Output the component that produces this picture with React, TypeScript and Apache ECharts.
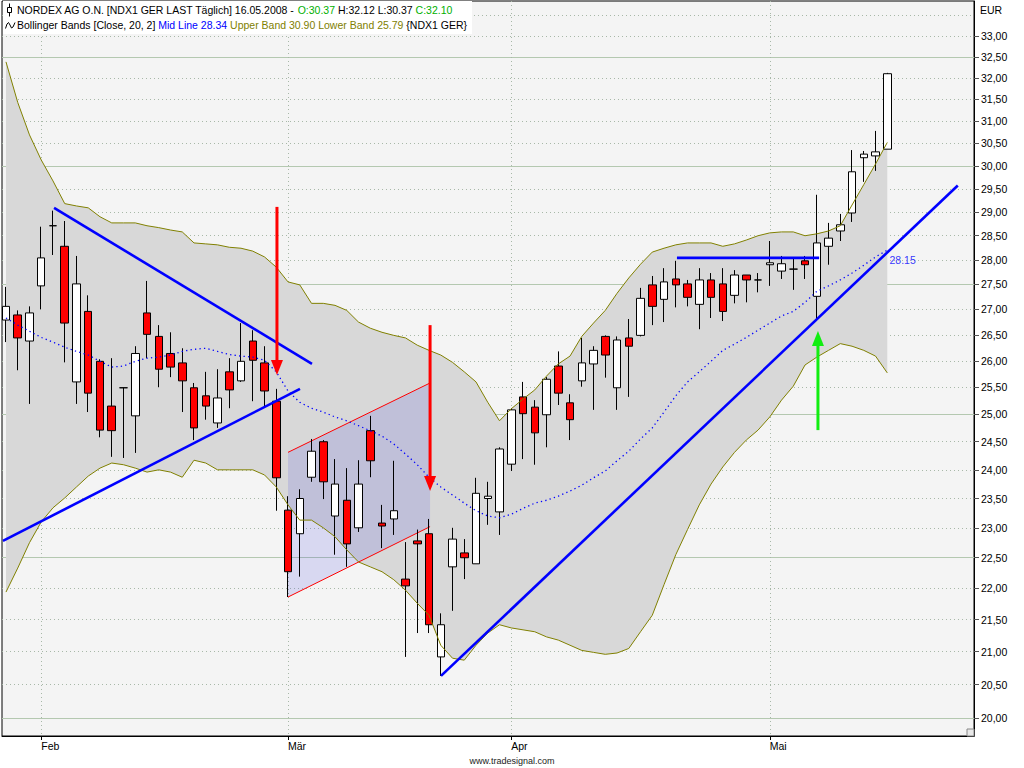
import React, { useEffect, useRef } from 'react';
import * as echarts from 'echarts';

// ---------- data ----------
const dates = [
  '29.01.', '30.01.', '31.01.',
  '01.02.', '04.02.', '05.02.', '06.02.', '07.02.', '08.02.', '11.02.', '12.02.', '13.02.', '14.02.', '15.02.',
  '18.02.', '19.02.', '20.02.', '21.02.', '22.02.', '25.02.', '26.02.', '27.02.', '28.02.', '29.02.',
  '03.03.', '04.03.', '05.03.', '06.03.', '07.03.', '10.03.', '11.03.', '12.03.', '13.03.', '14.03.',
  '17.03.', '18.03.', '19.03.', '20.03.', '25.03.', '26.03.', '27.03.', '28.03.', '31.03.',
  '01.04.', '02.04.', '03.04.', '04.04.', '07.04.', '08.04.', '09.04.', '10.04.', '11.04.', '14.04.',
  '15.04.', '16.04.', '17.04.', '18.04.', '21.04.', '22.04.', '23.04.', '24.04.', '25.04.', '28.04.',
  '29.04.', '30.04.',
  '02.05.', '05.05.', '06.05.', '07.05.', '08.05.', '09.05.', '12.05.', '13.05.', '14.05.', '15.05.', '16.05.'
];

const opens = [
  26.79, 26.89, 26.38, 27.47, 28.71, 28.28, 25.60, 26.96, 25.99, 25.15,
  25.49, 24.97, 26.93, 26.47, 26.14, 25.96, 25.49, 25.34, 24.84, 25.79,
  25.62, 26.38, 25.96, 25.24, 23.30, 22.90, 23.87, 24.50, 23.20, 23.47,
  23.00, 24.70, 23.08, 23.15, 22.15, 22.78, 22.90, 20.92, 22.35, 22.58,
  22.40, 23.50, 23.27, 24.10, 25.32, 25.13, 24.99, 25.90, 25.21, 25.62,
  25.94, 26.47, 25.49, 26.44, 26.49, 27.49, 27.20, 27.61, 27.51, 27.10,
  27.59, 27.51, 27.28, 27.69, 27.59, 27.90, 27.77, 27.81, 27.98, 27.26,
  28.28, 28.60, 28.98, 30.18, 30.22, 30.37
];
const highs = [
  27.45, 26.98, 27.06, 28.69, 29.03, 28.81, 28.08, 27.28, 26.03, 26.05,
  25.49, 26.28, 27.57, 26.69, 26.55, 26.24, 25.58, 25.79, 25.84, 26.05,
  26.73, 26.59, 26.28, 25.47, 23.54, 23.66, 24.55, 24.53, 24.19, 24.03,
  24.17, 24.97, 23.39, 24.16, 22.76, 22.97, 23.15, 21.60, 23.00, 22.81,
  23.86, 23.79, 24.40, 25.11, 25.60, 25.26, 25.69, 26.18, 25.37, 26.44,
  26.28, 26.49, 26.47, 26.81, 27.43, 27.67, 27.83, 27.98, 27.59, 27.83,
  27.73, 27.83, 27.79, 27.69, 27.73, 28.39, 28.08, 28.02, 28.08, 29.37,
  28.77, 28.96, 30.35, 30.33, 30.78, 32.12
];
const lows = [
  26.36, 25.82, 25.19, 27.00, 28.10, 25.97, 25.19, 25.04, 24.58, 24.23,
  24.21, 24.30, 26.05, 25.50, 25.69, 25.04, 24.53, 24.90, 24.75, 25.11,
  25.60, 25.24, 25.13, 23.29, 21.86, 22.19, 23.79, 23.49, 22.55, 22.35,
  22.93, 23.87, 22.66, 22.88, 20.92, 21.29, 21.29, 20.63, 21.64, 22.15,
  22.40, 23.05, 22.88, 23.98, 24.19, 24.09, 24.40, 25.17, 24.53, 25.51,
  25.08, 25.68, 25.08, 25.32, 26.47, 26.69, 26.75, 27.04, 27.06, 26.61,
  26.83, 26.77, 27.12, 27.14, 27.34, 27.47, 27.61, 27.39, 27.61, 26.81,
  27.90, 28.39, 28.79, 29.65, 29.89, 30.37
];
const closes = [
  27.06, 26.44, 26.93, 28.04, 28.71, 26.73, 27.51, 25.39, 24.71, 24.70,
  25.49, 26.14, 26.51, 25.84, 25.88, 25.62, 24.75, 25.15, 25.30, 25.45,
  25.99, 26.01, 25.43, 23.86, 22.27, 23.50, 24.33, 23.79, 23.75, 22.73,
  23.75, 24.16, 23.03, 23.29, 22.04, 22.73, 21.42, 21.42, 22.81, 22.50,
  23.59, 23.54, 24.37, 25.08, 25.01, 24.66, 25.65, 25.39, 24.90, 25.96,
  26.20, 26.11, 26.40, 26.28, 27.22, 27.06, 27.55, 27.49, 27.24, 27.59,
  27.24, 26.96, 27.69, 27.59, 27.59, 27.94, 27.92, 27.81, 27.90, 28.35,
  28.45, 28.73, 29.87, 30.26, 30.31, 32.10
];

const upperBand = [
  32.38, 31.43, 30.69, 30.13, 29.67, 29.18, 29.13, 29.09, 28.90, 28.77,
  28.77, 28.77, 28.71, 28.67, 28.62, 28.58, 28.35, 28.33, 28.31, 28.26,
  28.24, 28.18, 28.06, 27.85, 27.55, 27.49, 27.12, 27.12, 27.08, 26.98,
  26.75, 26.63, 26.55, 26.49, 26.44, 26.30, 26.20, 26.11, 25.97, 25.79,
  25.60, 25.22, 24.88, 25.10, 25.28, 25.45, 25.71, 25.94, 26.09, 26.47,
  26.73, 26.98, 27.32, 27.63, 27.91, 28.16, 28.24, 28.31, 28.35, 28.35,
  28.35, 28.28, 28.33, 28.41, 28.50, 28.56, 28.58, 28.58, 28.50, 28.54,
  28.60, 28.71, 29.15, 29.59, 30.04, 30.52
];
const midBand = [
  26.83, 26.69, 26.57, 26.45, 26.36, 26.26, 26.18, 26.11, 25.99, 25.88,
  25.90, 25.99, 26.05, 26.07, 26.11, 26.18, 26.22, 26.24, 26.18, 26.12,
  26.09, 26.07, 26.01, 25.79, 25.43, 25.22, 25.11, 25.04, 24.95, 24.88,
  24.79, 24.70, 24.60, 24.46, 24.28, 24.09, 23.87, 23.70, 23.56, 23.42,
  23.29, 23.20, 23.17, 23.23, 23.33, 23.42, 23.47, 23.54, 23.63, 23.73,
  23.86, 23.98, 24.16, 24.33, 24.55, 24.75, 25.04, 25.34, 25.60, 25.79,
  25.99, 26.20, 26.32, 26.45, 26.59, 26.73, 26.87, 26.96, 27.14, 27.36,
  27.47, 27.59, 27.73, 27.89, 28.06, 28.20
];
const lowerBand = [
  21.94, 22.33, 22.75, 23.10, 23.34, 23.51, 23.70, 23.89, 24.03, 24.12,
  24.09, 24.03, 23.96, 24.00, 23.96, 23.87, 24.17, 24.12, 24.00, 24.00,
  24.00, 24.00, 23.91, 23.70, 23.39, 23.13, 23.13, 23.00, 22.85, 22.63,
  22.43, 22.35, 22.27, 22.14, 21.97, 21.76, 21.57, 21.10, 20.90, 20.87,
  21.10, 21.29, 21.42, 21.37, 21.34, 21.31, 21.23, 21.18, 21.10, 21.02,
  20.99, 20.96, 20.98, 21.05, 21.31, 21.57, 22.06, 22.55, 22.97, 23.39,
  23.75, 24.05, 24.31, 24.53, 24.71, 24.95, 25.26, 25.52, 25.92, 26.07,
  26.20, 26.33, 26.28, 26.20, 26.09, 25.77
];

const priceTicks = [20, 20.5, 21, 21.5, 22, 22.5, 23, 23.5, 24, 24.5, 25, 25.5, 26, 26.5, 27, 27.5, 28, 28.5, 29, 29.5, 30, 30.5, 31, 31.5, 32, 32.5, 33];
const dottedGrid = [20, 20.5, 21, 21.5, 22, 22.5, 23, 23.5, 24, 24.5, 25, 25.5, 26, 26.5, 27, 27.5, 28, 28.5, 29, 29.5, 30, 30.5, 31, 31.5, 32, 32.5, 33, 33.5];
const solidGrid = [20, 22.5, 25, 27.5, 30, 32.5];
const monthTickIdx = [3, 24, 43, 65];
const monthLabels = ['Feb', 'Mär', 'Apr', 'Mai'];

// drawn annotations, [bar index, price]
const trendLines = [
  [[4.09, 29.09], [26.04, 25.94]],
  [[-0.26, 22.78], [25.02, 25.47]],
  [[37.02, 20.63], [81.0, 29.57]],
  [[57.1, 28.04], [69.2, 28.04]]
];
const channel = [[24.0, 24.31], [36.09, 25.58], [36.09, 23.02], [24.0, 21.86]];
const arrows = [
  { x: 23.06, from: 29.11, to: 25.87, color: '#ff0000', rot: 180 },
  { x: 36.09, from: 26.69, to: 23.76, color: '#ff0000', rot: 180 },
  { x: 69.1, from: 24.71, to: 26.43, color: '#11ee11', rot: 0 }
];
const trendLabel = { x: 75.06, price: 28.0, text: '28.15' };

const FONT = "'Liberation Sans', Arial, sans-serif";
const L = Math.log;
const Y_MIN = L(19.74);
const Y_MAX = L(33.86);

export default function App() {
  const ref = useRef<HTMLDivElement>(null);
  useEffect(() => {
    document.body.style.margin = '0';
    if (!ref.current) return;
    const chart = echarts.init(ref.current, null, { renderer: 'svg' });

    const candleData = opens.map((o, i) => [i, L(o), L(closes[i]), L(lows[i]), L(highs[i])]);
    const yAxisBase = {
      type: 'value',
      min: Y_MIN,
      max: Y_MAX,
      position: 'right',
    };

    const series: any[] = [];
    // Bollinger band fill
    series.push({
      type: 'custom',
      silent: true,
      data: [[0, L(upperBand[0])]],
      renderItem: (params: any, api: any) => {
        const top = upperBand.map((p, i) => api.coord([i, L(p)]));
        const bot = lowerBand.map((p, i) => api.coord([i, L(p)])).reverse();
        return {
          type: 'polygon',
          shape: { points: top.concat(bot) },
          style: { fill: '#d8d8d8' }
        };
      }
    });
    series.push({
      type: 'line', data: upperBand.map((p, i) => [i, L(p)]), symbol: 'none',
      lineStyle: { color: '#808000', width: 1 }, silent: true
    });
    series.push({
      type: 'line', data: lowerBand.map((p, i) => [i, L(p)]), symbol: 'none',
      lineStyle: { color: '#808000', width: 1 }, silent: true
    });
    series.push({
      type: 'line', data: midBand.map((p, i) => [i, L(p)]), symbol: 'none',
      lineStyle: { color: '#0000ff', width: 1.3, type: [1.3, 3.2] }, silent: true
    });
    series.push({
      type: 'candlestick',
      data: candleData,
      barWidth: 8,
      itemStyle: {
        color: '#ffffff', color0: '#ff0000',
        borderColor: '#000000', borderColor0: '#000000', borderColorDoji: '#000000',
        borderWidth: 1
      }
    });
    // channel overlay
    series.push({
      type: 'custom',
      silent: true,
      data: [[24, L(23)]],
      renderItem: (params: any, api: any) => {
        const pts = channel.map(([x, p]) => api.coord([x, L(p)]));
        return {
          type: 'group',
          children: [
            { type: 'polygon', shape: { points: pts }, style: { fill: 'rgba(60,60,230,0.15)' } },
            { type: 'line', shape: { x1: pts[0][0], y1: pts[0][1], x2: pts[1][0], y2: pts[1][1] }, style: { stroke: '#ff0000', lineWidth: 1 } },
            { type: 'line', shape: { x1: pts[3][0], y1: pts[3][1], x2: pts[2][0], y2: pts[2][1] }, style: { stroke: '#ff0000', lineWidth: 1 } }
          ]
        };
      }
    });
    trendLines.forEach((seg) => {
      series.push({
        type: 'line', data: seg.map(([x, p]) => [x, L(p)]), symbol: 'none',
        lineStyle: { color: '#0000ff', width: 2.6 }, silent: true
      });
    });
    arrows.forEach((a) => {
      series.push({
        type: 'line',
        silent: true,
        symbol: 'triangle',
        showSymbol: true,
        itemStyle: { color: a.color },
        lineStyle: { color: a.color, width: 3 },
        data: [
          { value: [a.x, L(a.from)], symbol: 'none' },
          { value: [a.x, L(a.to)], symbol: 'triangle', symbolSize: [12, 15], symbolRotate: a.rot }
        ]
      });
    });
    series.push({
      type: 'scatter',
      silent: true,
      symbolSize: 1,
      itemStyle: { color: 'rgba(0,0,0,0)' },
      data: [[trendLabel.x, L(trendLabel.price)]],
      label: {
        show: true, position: 'right', distance: 1, formatter: trendLabel.text,
        color: '#0000ff', fontSize: 10.5, fontFamily: FONT
      }
    });

    const option: any = {
      animation: false,
      backgroundColor: '#ffffff',
      grid: {
        left: 2, right: 50, top: 1, bottom: 32, show: true,
        backgroundColor: '#f4f4f4', borderColor: '#000000', borderWidth: 1,
        containLabel: false, outerBoundsMode: 'none'
      },
      xAxis: {
        type: 'value', min: -0.34, max: 82.38,
        axisLine: { show: true, onZero: false, lineStyle: { color: '#000000' } },
        axisTick: { show: true, customValues: monthTickIdx, length: 4, lineStyle: { color: '#000000' } },
        axisLabel: {
          customValues: monthTickIdx,
          formatter: (v: number) => {
            const k = monthTickIdx.indexOf(v);
            return k >= 0 ? monthLabels[k] : '';
          },
          align: 'left', margin: 4, fontSize: 10.5, fontFamily: FONT, color: '#000000'
        },
        splitLine: { show: true, lineStyle: { color: '#a8b8a8', type: [1, 3], width: 1 } }
      },
      yAxis: [
        {
          ...yAxisBase,
          axisLine: { show: true, onZero: false, lineStyle: { color: '#000000' } },
          axisTick: { show: true, customValues: priceTicks.map(L), length: 5, lineStyle: { color: '#555555' } },
          axisLabel: {
            customValues: priceTicks.map(L),
            formatter: (v: number) => Math.exp(v).toFixed(2).replace('.', ','),
            margin: 7, fontSize: 10.5, fontFamily: FONT, color: '#000000'
          },
          splitLine: { show: false }
        },
        {
          ...yAxisBase,
          axisLine: { show: false },
          axisTick: { show: false, customValues: dottedGrid.map(L) },
          axisLabel: { show: false },
          splitLine: { show: true, lineStyle: { color: '#a8b8a8', type: [1, 3], width: 1 } }
        },
        {
          ...yAxisBase,
          axisLine: { show: false },
          axisTick: { show: false, customValues: solidGrid.map(L) },
          axisLabel: { show: false },
          splitLine: { show: true, lineStyle: { color: '#b4c8b0', width: 1 } }
        }
      ],
      series,
      graphic: [
        { type: 'rect', z: 100, shape: { x: 3, y: 1, width: 469, height: 33 }, style: { fill: '#ffffff' } },
        { type: 'line', z: 101, shape: { x1: 9.5, y1: 3.5, x2: 9.5, y2: 16.5 }, style: { stroke: '#000', lineWidth: 1 } },
        { type: 'rect', z: 102, shape: { x: 7.5, y: 7.5, width: 4, height: 5 }, style: { fill: '#ffffff', stroke: '#000', lineWidth: 1 } },
        {
          type: 'polyline', z: 101,
          shape: { points: [[5.5, 28.5], [7, 24], [8.5, 22.5], [10, 25], [11.5, 28], [13, 27], [15, 22.5]] },
          style: { stroke: '#000', lineWidth: 1, fill: null }
        },
        {
          type: 'text', z: 101, x: 17, y: 10,
          style: {
            text: '{k|NORDEX AG O.N. [NDX1 GER LAST Täglich] 16.05.2008 - }{g|O:30.37}{k| H:32.12 L:30.37 }{g|C:32.10}',
            font: `10.5px ${FONT}`, fill: '#000', verticalAlign: 'middle',
            rich: {
              k: { fill: '#000000', font: `10.5px ${FONT}` },
              g: { fill: '#00b000', font: `10.5px ${FONT}` }
            }
          }
        },
        {
          type: 'text', z: 101, x: 17, y: 25,
          style: {
            text: '{k|Bollinger Bands [Close, 20, 2] }{b|Mid Line 28.34}{o| Upper Band 30.90 Lower Band 25.79}{k| }{NDX1 GER}',
            font: `10.5px ${FONT}`, fill: '#000', verticalAlign: 'middle',
            rich: {
              k: { fill: '#000000', font: `10.5px ${FONT}` },
              b: { fill: '#0000ff', font: `10.5px ${FONT}` },
              o: { fill: '#808000', font: `10.5px ${FONT}` }
            }
          }
        },
        {
          type: 'text', z: 101, x: 980, y: 10,
          style: { text: 'EUR', font: `10.5px ${FONT}`, fill: '#000', verticalAlign: 'middle' }
        },
        {
          type: 'rect', z: 101, shape: { x: 967, y: 729, width: 7, height: 7 },
          style: { fill: '#e8e8e8', stroke: '#888888', lineWidth: 1 }
        },
        {
          type: 'text', z: 101, x: 512, y: 761,
          style: { text: 'www.tradesignal.com', font: `9px ${FONT}`, fill: '#222', align: 'center', verticalAlign: 'middle' }
        }
      ]
    };
    chart.setOption(option);
    return () => chart.dispose();
  }, []);
  return <div ref={ref} style={{ width: 1024, height: 768 }} />;
}
